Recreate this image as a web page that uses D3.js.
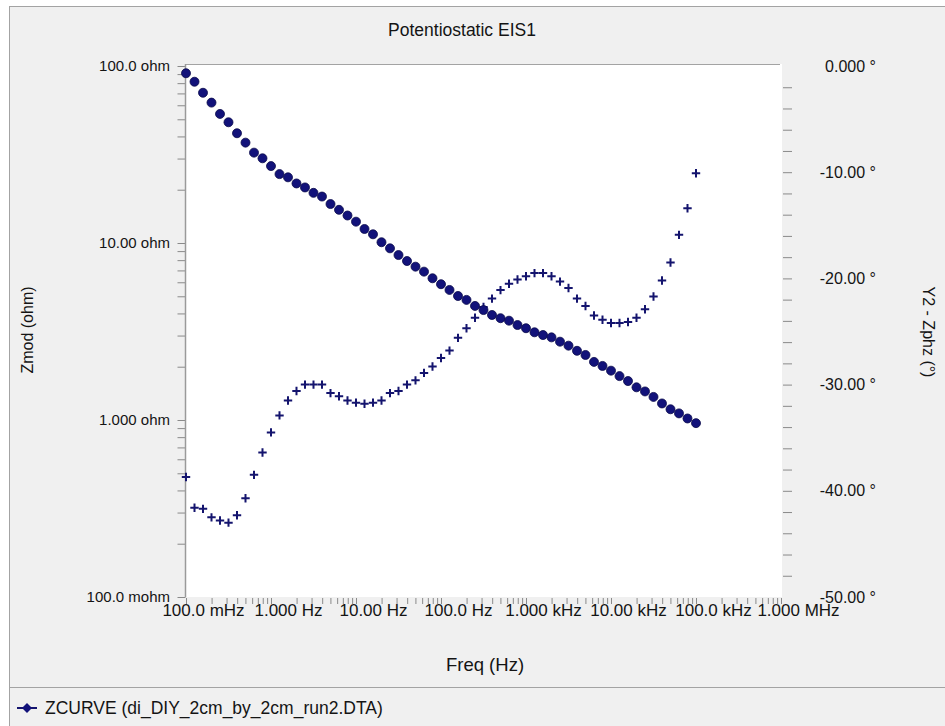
<!DOCTYPE html>
<html>
<head>
<meta charset="utf-8">
<script src="https://cdn.jsdelivr.net/npm/d3@7"></script>
<style>
  html, body { margin: 0; padding: 0; background: #ffffff; }
  svg { display: block; }
  text { font-family: "Liberation Sans", Arial, sans-serif; fill: #141414; }
</style>
</head>
<body>
<svg id="chart" width="945" height="726"></svg>
<script>
// ---------------- data ----------------
const chartTitle = "Potentiostatic EIS1";
const xTitle = "Freq (Hz)";
const yLeftTitle = "Zmod (ohm)";
const yRightTitle = "Y2 - Zphz (°)";
const legendLabel = "ZCURVE (di_DIY_2cm_by_2cm_run2.DTA)";

const freq = [
  0.1, 0.1259, 0.1585, 0.1995, 0.2512, 0.3162, 0.3981, 0.5012, 0.631, 0.7943,
  1, 1.259, 1.585, 1.995, 2.512, 3.162, 3.981, 5.012, 6.31, 7.943,
  10, 12.59, 15.85, 19.95, 25.12, 31.62, 39.81, 50.12, 63.1, 79.43,
  100, 125.9, 158.5, 199.5, 251.2, 316.2, 398.1, 501.2, 631, 794.3,
  1000, 1259, 1585, 1995, 2512, 3162, 3981, 5012, 6310, 7943,
  10000, 12590, 15850, 19950, 25120, 31620, 39810, 50120, 63100, 79430,
  100000
];

const zmod = [
  91.0, 81.5, 70.6, 62.1, 53.6, 48.1, 41.7, 36.9, 32.4, 30.1,
  27.2, 24.5, 23.5, 21.7, 20.6, 19.2, 18.3, 16.6, 15.4, 14.3,
  13.2, 12.0, 11.2, 10.1, 9.33, 8.55, 7.91, 7.35, 6.89, 6.32,
  5.85, 5.43, 5.02, 4.77, 4.41, 4.18, 3.92, 3.76, 3.64, 3.44,
  3.30, 3.13, 3.02, 2.93, 2.77, 2.63, 2.46, 2.33, 2.13, 2.02,
  1.90, 1.77, 1.66, 1.53, 1.45, 1.35, 1.24, 1.15, 1.09, 1.02,
  0.96
];

const zphz = [
  -38.7, -41.6, -41.7, -42.5, -42.8, -43.0, -42.3, -40.7, -38.5, -36.4,
  -34.5, -32.9, -31.5, -30.6, -30.0, -30.0, -30.0, -30.8, -31.1, -31.5,
  -31.7, -31.8, -31.7, -31.5, -30.8, -30.6, -30.0, -29.6, -28.9, -28.3,
  -27.5, -26.8, -25.6, -24.7, -23.7, -22.7, -21.9, -21.1, -20.5, -20.1,
  -19.8, -19.5, -19.5, -19.8, -20.3, -20.9, -21.9, -22.6, -23.5, -23.9,
  -24.2, -24.2, -24.1, -23.7, -22.9, -21.7, -20.2, -18.5, -15.9, -13.4,
  -10.1
];

const xTickValues = [0.1, 1, 10, 100, 1000, 10000, 100000, 1000000];
const xTickLabels = ["100.0 mHz", "1.000 Hz", "10.00 Hz", "100.0 Hz", "1.000 kHz", "10.00 kHz", "100.0 kHz", "1.000 MHz"];
const yLeftTickValues = [0.1, 1, 10, 100];
const yLeftTickLabels = ["100.0 mohm", "1.000 ohm", "10.00 ohm", "100.0 ohm"];
const yRightTickValues = [0, -10, -20, -30, -40, -50];
const yRightTickLabels = ["0.000 °", "-10.00 °", "-20.00 °", "-30.00 °", "-40.00 °", "-50.00 °"];

// ---------------- layout ----------------
const W = 945, H = 726;
const plot = { left: 186, right: 782, top: 64, bottom: 597 };
const frameCol = "#a3a3a3";
const markCol = "#14146e";

const svg = d3.select("#chart");

// window background
svg.append("rect").attr("x", 0).attr("y", 0).attr("width", W).attr("height", H).attr("fill", "#ffffff");
svg.append("rect").attr("x", 9.5).attr("y", 6.5).attr("width", W).attr("height", H)
  .attr("fill", "#f0f0f0").attr("stroke", frameCol).attr("stroke-width", 1);
svg.append("line").attr("x1", 9.5).attr("x2", W).attr("y1", 687.5).attr("y2", 687.5)
  .attr("stroke", frameCol).attr("stroke-width", 1);

// plot area
svg.append("rect").attr("x", plot.left).attr("y", plot.top)
  .attr("width", plot.right - plot.left).attr("height", plot.bottom - plot.top).attr("fill", "#ffffff");
svg.append("line").attr("x1", plot.left).attr("x2", plot.right - 2).attr("y1", plot.top + 0.5).attr("y2", plot.top + 0.5)
  .attr("stroke", frameCol).attr("stroke-width", 1);

// scales
const x = d3.scaleLog().domain([0.1, 1e6]).range([plot.left, plot.right - 1]);
const yL = d3.scaleLog().domain([0.1, 100]).range([plot.bottom, 66]);
const yR = d3.scaleLinear().domain([-50, 0]).range([plot.bottom, 66]);

function logTicks(lo, hi) {
  const out = [];
  for (let e = Math.round(Math.log10(lo)); e < Math.round(Math.log10(hi)); e++) {
    for (let k = 1; k <= 9; k++) out.push(+(k * Math.pow(10, e)).toPrecision(6));
  }
  out.push(hi);
  return out;
}

function styleAxis(size) {
  return g => {
    g.select(".domain").remove();
    g.selectAll(".tick line").attr("stroke", "#8a8a8a").attr("stroke-width", 1);
    g.selectAll(".tick text").attr("font-size", size).attr("fill", "#141414")
      .attr("font-family", "Liberation Sans, Arial, sans-serif");
  };
}

// left axis: all ticks
svg.append("g").attr("transform", `translate(${plot.left - 0.5},0)`)
  .call(d3.axisLeft(yL).tickValues(logTicks(0.1, 100)).tickSize(8).tickFormat(""))
  .call(styleAxis(15));
// left axis labels
svg.append("g").attr("transform", `translate(${plot.left},0)`)
  .call(d3.axisLeft(yL).tickValues(yLeftTickValues).tickSize(0).tickPadding(16)
    .tickFormat((d, i) => yLeftTickLabels[i]))
  .call(styleAxis(15));
svg.append("line").attr("x1", plot.left - 0.5).attr("x2", plot.left - 0.5)
  .attr("y1", plot.top).attr("y2", plot.bottom).attr("stroke", "#9a9a9a").attr("stroke-width", 1.5);

// bottom axis ticks
svg.append("g").attr("transform", `translate(0,${plot.bottom + 1})`)
  .call(d3.axisBottom(x).tickValues(logTicks(0.1, 1e6)).tickSize(6).tickFormat(""))
  .call(styleAxis(15));
// bottom labels
svg.append("g").attr("transform", `translate(0,${plot.bottom + 1})`)
  .call(d3.axisBottom(x).tickValues(xTickValues).tickSize(0).tickPadding(6)
    .tickFormat((d, i) => xTickLabels[i]))
  .call(styleAxis(17))
  .selectAll(".tick text").attr("dx", 17);

// right axis ticks every 2 degrees
svg.append("g").attr("transform", `translate(${plot.right + 1},0)`)
  .call(d3.axisRight(yR).tickValues(d3.range(-48, -1, 2)).tickSize(9).tickFormat(""))
  .call(styleAxis(15));
// right labels
svg.append("g").attr("transform", `translate(${plot.right},0)`)
  .call(d3.axisRight(yR).tickValues(yRightTickValues).tickSize(0).tickPadding(94)
    .tickFormat((d, i) => yRightTickLabels[i]))
  .call(styleAxis(16))
  .selectAll(".tick text").attr("text-anchor", "end");

// titles
svg.append("text").attr("x", 462).attr("y", 30).attr("text-anchor", "middle")
  .attr("dominant-baseline", "central").attr("font-size", 17.5).text(chartTitle);
svg.append("text").attr("x", 485).attr("y", 664).attr("text-anchor", "middle")
  .attr("dominant-baseline", "central").attr("font-size", 18.5).text(xTitle);
svg.append("text").attr("transform", "translate(27,330) rotate(-90)").attr("text-anchor", "middle")
  .attr("dominant-baseline", "central").attr("font-size", 16).text(yLeftTitle);
svg.append("text").attr("transform", "translate(928,332) rotate(90)").attr("text-anchor", "middle")
  .attr("dominant-baseline", "central").attr("font-size", 16).text(yRightTitle);

// data
const pts = freq.map((f, i) => ({ f, z: zmod[i], p: zphz[i] }));

// phase: plus markers
const plus = svg.append("g").attr("stroke", markCol).attr("stroke-width", 2).attr("fill", "none");
plus.selectAll("path").data(pts).join("path")
  .attr("d", d => {
    const cx = x(d.f), cy = yR(d.p), s = 4.2;
    return `M${cx - s},${cy}H${cx + s}M${cx},${cy - s}V${cy + s}`;
  });

// modulus: filled circles
svg.append("g").selectAll("circle").data(pts).join("circle")
  .attr("cx", d => x(d.f)).attr("cy", d => yL(d.z)).attr("r", 4.5)
  .attr("fill", "#12127a").attr("stroke", "#0a0a4a").attr("stroke-width", 0.8);

// legend
const lg = svg.append("g").attr("transform", "translate(0,708)");
lg.append("line").attr("x1", 17).attr("x2", 37).attr("y1", 0).attr("y2", 0)
  .attr("stroke", markCol).attr("stroke-width", 2);
lg.append("path").attr("d", "M27,-5L32,0L27,5L22,0Z").attr("fill", "#12127a");
lg.append("text").attr("x", 45).attr("y", 0).attr("dominant-baseline", "central")
  .attr("font-size", 17.5).text(legendLabel);
</script>
</body>
</html>
